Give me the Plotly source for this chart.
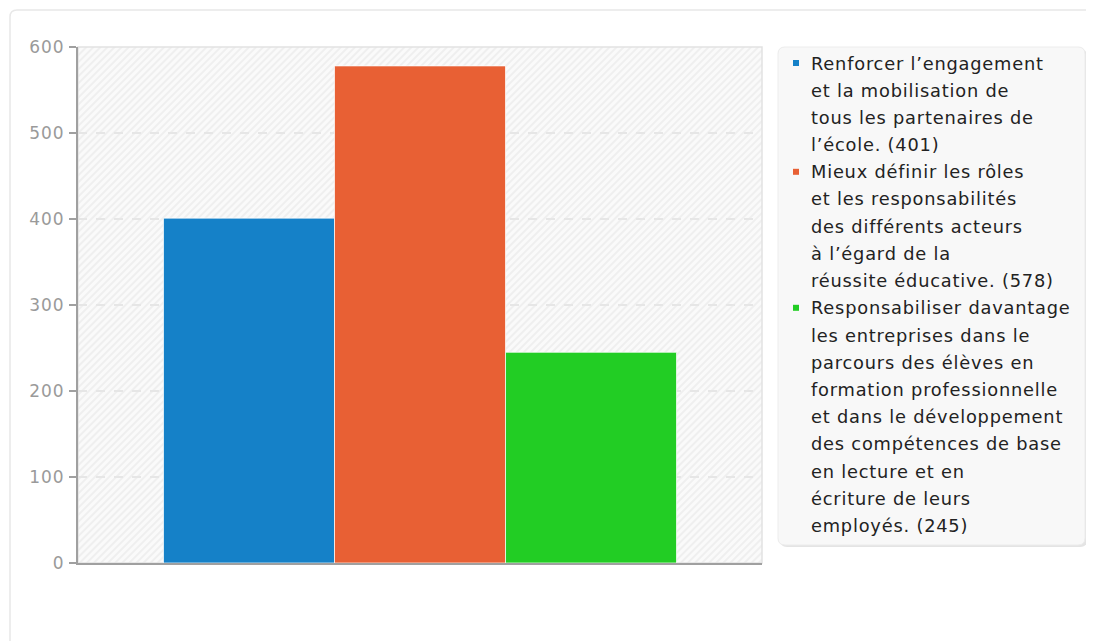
import base64
import plotly.graph_objects as go

# ---- data ----
categories = [
    "Renforcer l’engagement et la mobilisation de tous les partenaires de l’école.",
    "Mieux définir les rôles et les responsabilités des différents acteurs à l’égard de la réussite éducative.",
    "Responsabiliser davantage les entreprises dans le parcours des élèves en formation professionnelle et dans le développement des compétences de base en lecture et en écriture de leurs employés.",
]
values = [401, 578, 245]
legend_lines = [
    ["Renforcer l’engagement", "et la mobilisation de", "tous les partenaires de", "l’école."],
    ["Mieux définir les rôles", "et les responsabilités", "des différents acteurs", "à l’égard de la", "réussite éducative."],
    ["Responsabiliser davantage", "les entreprises dans le", "parcours des élèves en",
     "formation professionnelle", "et dans le développement", "des compétences de base",
     "en lecture et en", "écriture de leurs", "employés."],
]
colors = ["#1581c8", "#e86034", "#22cd24"]
y_ticks = [0, 100, 200, 300, 400, 500, 600]

# ---- layout geometry (screen pixels; page body has an 8px margin) ----
OFF = 8
W, H = 1094 - OFF, 641 - OFF
L, R, T, B = 78, 762, 47, 563          # plot area in screen pixels
pw, ph = R - L, B - T


def px(x):
    return (x - L) / pw


def py(y):
    return (B - y) / ph


FONT = "DejaVu Sans"
SP = "letter-spacing:0.8px"

fig = go.Figure()
for name, v, c in zip(categories, values, colors):
    fig.add_trace(go.Bar(
        x=["q"], y=[v], name=name,
        marker=dict(color=c, line=dict(color="rgba(255,255,255,0.7)", width=1)),
        showlegend=False,
    ))

# hatched plot background
svg = (
    f'<svg xmlns="http://www.w3.org/2000/svg" width="{pw}" height="{ph}">'
    '<defs><pattern id="p" width="5" height="5" patternUnits="userSpaceOnUse" '
    'patternTransform="rotate(45)"><rect width="5" height="5" fill="#fafafa"/>'
    '<line x1="1" y1="0" x2="1" y2="5" stroke="#ededed" stroke-width="1.6"/></pattern></defs>'
    f'<rect width="{pw}" height="{ph}" fill="url(#p)"/></svg>'
)
uri = "data:image/svg+xml;base64," + base64.b64encode(svg.encode()).decode()

shapes = []
# outer card
shapes.append(dict(
    type="path", xref="paper", yref="paper", layer="below",
    path=(f"M {px(10)},{py(700)} L {px(10)},{py(17)} Q {px(10)},{py(10)} {px(17)},{py(10)} "
          f"L {px(1200)},{py(10)}"),
    line=dict(color="#e8e8e8", width=1.5),
))
# plot frame (top/right light)
shapes.append(dict(type="rect", xref="paper", yref="paper", x0=0, x1=1, y0=0, y1=1,
                   line=dict(color="#e2e2e2", width=1.5), layer="below"))

# legend box with shadow
lx0, lx1, ly0, ly1, rr = 778, 1085, 47, 545, 7


def rounded(x0, y0, x1, y1, r):
    return (f"M {px(x0 + r)},{py(y0)} L {px(x1 - r)},{py(y0)} Q {px(x1)},{py(y0)} {px(x1)},{py(y0 + r)} "
            f"L {px(x1)},{py(y1 - r)} Q {px(x1)},{py(y1)} {px(x1 - r)},{py(y1)} "
            f"L {px(x0 + r)},{py(y1)} Q {px(x0)},{py(y1)} {px(x0)},{py(y1 - r)} "
            f"L {px(x0)},{py(y0 + r)} Q {px(x0)},{py(y0)} {px(x0 + r)},{py(y0)} Z")


shapes.append(dict(type="path", xref="paper", yref="paper", path=rounded(lx0 + 2, ly0 + 2, lx1 + 2, ly1 + 2, rr),
                   fillcolor="#e4e4e4", line=dict(width=0), layer="above"))
shapes.append(dict(type="path", xref="paper", yref="paper", path=rounded(lx0, ly0, lx1, ly1, rr),
                   fillcolor="#f8f8f8", line=dict(color="#ececec", width=1), layer="above"))

annotations = []
line_h = 27.2
y0_line = 63
i = 0
for lines, v, c in zip(legend_lines, values, colors):
    for j, t in enumerate(lines):
        text = t + (f" ({v})" if j == len(lines) - 1 else "")
        yc = y0_line + line_h * i
        if j == 0:
            shapes.append(dict(type="rect", xref="paper", yref="paper",
                               x0=px(793), x1=px(799), y0=py(yc - 3), y1=py(yc + 3),
                               fillcolor=c, line=dict(width=0), layer="above"))
        annotations.append(dict(
            x=px(809), y=py(yc), xref="paper", yref="paper",
            text=f'<span style="{SP}">{text}</span>',
            xanchor="left", yanchor="middle", showarrow=False,
            font=dict(family=FONT, size=17.8, color="#222222"),
        ))
        i += 1

fig.update_layout(
    width=W, height=H,
    margin=dict(l=L - OFF, r=W - (R - OFF), t=T - OFF, b=H - (B - OFF), pad=0),
    paper_bgcolor="white", plot_bgcolor="#fafafa",
    barmode="group", bargap=0.25, bargroupgap=0,
    font=dict(family=FONT),
    images=[dict(source=uri, xref="paper", yref="paper", x=0, y=1, sizex=1, sizey=1,
                 sizing="stretch", xanchor="left", yanchor="top", layer="below")],
    shapes=shapes, annotations=annotations,
    xaxis=dict(showticklabels=False, showgrid=False, zeroline=False, layer="below traces",
               showline=True, linecolor="#a0a0a0", linewidth=2, ticks=""),
    yaxis=dict(range=[0, 600], tickvals=y_ticks,
               ticktext=[f'<span style="letter-spacing:1px">{t}</span>' for t in y_ticks],
               showgrid=True, gridcolor="#e6e6e6",
               griddash="dash", gridwidth=1.5, zeroline=False,
               showline=True, linecolor="#a0a0a0", linewidth=2,
               ticks="outside", ticklen=7, tickcolor="#a0a0a0", tickwidth=1.5,
               ticklabelstandoff=1,
               tickfont=dict(family=FONT, size=17, color="#9a9a9a")),
    showlegend=False,
)

fig.write_html("out.html")
